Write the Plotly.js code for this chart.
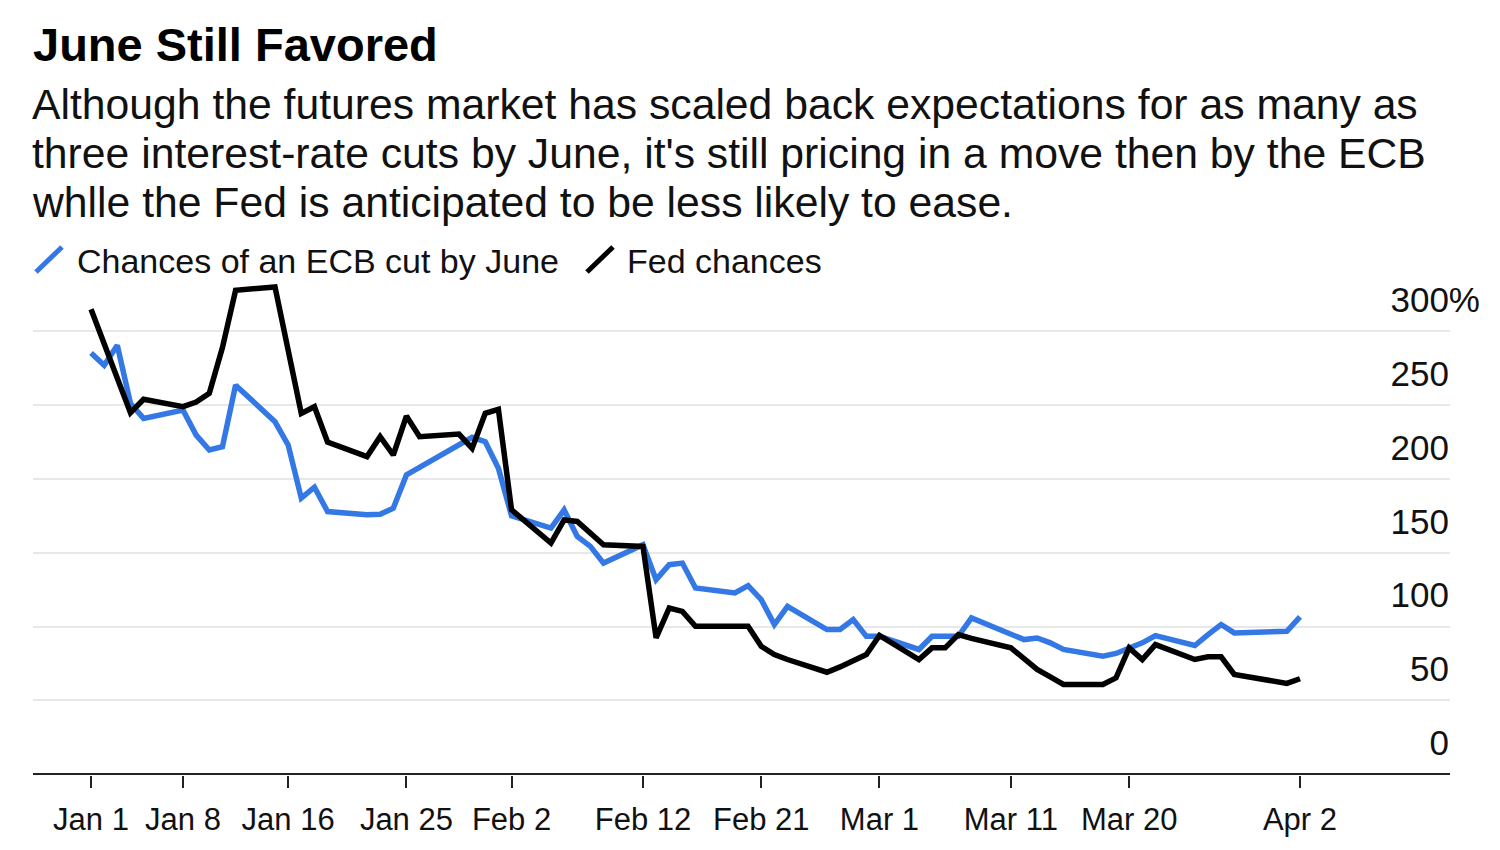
<!DOCTYPE html>
<html>
<head>
<meta charset="utf-8">
<script src="https://cdn.plot.ly/plotly-3.0.1.min.js"></script>
<style>html,body{margin:0;padding:0;background:#fff}#chart{width:1500px;height:850px}</style>
</head>
<body>
<div id="chart"></div>
<script>
// ---- data ----
const dates = [
  "2024-01-01","2024-01-02","2024-01-03","2024-01-04","2024-01-05",
  "2024-01-08","2024-01-09","2024-01-10","2024-01-11","2024-01-12",
  "2024-01-15","2024-01-16","2024-01-17","2024-01-18","2024-01-19",
  "2024-01-22","2024-01-23","2024-01-24","2024-01-25","2024-01-26",
  "2024-01-29","2024-01-30","2024-01-31","2024-02-01","2024-02-02",
  "2024-02-05","2024-02-06","2024-02-07","2024-02-08","2024-02-09",
  "2024-02-12","2024-02-13","2024-02-14","2024-02-15","2024-02-16",
  "2024-02-19","2024-02-20","2024-02-21","2024-02-22","2024-02-23",
  "2024-02-26","2024-02-27","2024-02-28","2024-02-29","2024-03-01",
  "2024-03-04","2024-03-05","2024-03-06","2024-03-07","2024-03-08",
  "2024-03-11","2024-03-12","2024-03-13","2024-03-14","2024-03-15",
  "2024-03-18","2024-03-19","2024-03-20","2024-03-21","2024-03-22",
  "2024-03-25","2024-03-26","2024-03-27","2024-03-28",
  "2024-04-01","2024-04-02"
];
const ecbChances = [
  285.3, 277, 290.5, 251.1, 241,
  246.6, 229.7, 219.6, 221.8, 263.5,
  238.7, 223, 187, 194.4, 177.9,
  175.7, 176.1, 180.2, 202.7, null,
  null, 228.2, 225.2, 207.2, 175,
  166.7, 179, 161, 154.3, 143,
  155.4, 131.8, 141.9, 143, 126.1,
  122.8, 127.7, 118.2, 101.4, 113.7,
  98, 98, 104.7, 93.4, 93.4,
  84.5, 93.4, 93.4, 93.4, 105.9,
  94.6, 91.2, 92.3, 89, 84.5,
  80, 81.8, 85, 89, 93.9,
  87.2, 94.6, 101.4, 95.7,
  96.8, 106.6
];
const fedChances = [
  314.9, null, null, 244.8, 253.9,
  248.9, 252, 258, 289, 327.7,
  330, null, 244.4, 248.9, 225,
  215.1, 228.6, 216.2, 242.6, 228.6,
  230.4, 220.7, 244.4, 247.1, 179.1,
  156.6, 172.3, 171.2, 163.3, 155.4,
  154.3, 92.4, 112.6, 110.3, 100.2,
  null, 100.2, 86.7, 81.1, 77.7,
  69.1, 72.7, 76.6, 81.1, 94,
  77.7, 85.6, 85.6, 94.6, 92,
  85.6, 78.8, 71, 66, 60.8,
  60.8, 65.3, 85.6, 77.7, 87.8,
  77.7, 79.5, 79.5, 67.6,
  61.5, 64.7
];
const xTickVals = ["2024-01-01","2024-01-08","2024-01-16","2024-01-25","2024-02-02","2024-02-12","2024-02-21","2024-03-01","2024-03-11","2024-03-20","2024-04-02"];
const xTickText = ["Jan 1","Jan 8","Jan 16","Jan 25","Feb 2","Feb 12","Feb 21","Mar 1","Mar 11","Mar 20","Apr 2"];
const yTickVals = [0, 50, 100, 150, 200, 250, 300];
const yTickText = ["0","50","100","150","200","250","300%"];
const seriesNames = ["Chances of an ECB cut by June", "Fed chances"];
const titleText = "June Still Favored";
const subtitleLines = [
  "Although the futures market has scaled back expectations for as many as",
  "three interest-rate cuts by June, it's still pricing in a move then by the ECB",
  "whlle the Fed is anticipated to be less likely to ease."
];

// ---- styling ----
const BLUE = "#3478e6";
const BLACK = "#000000";
const FONT = "Liberation Sans, Arial, Helvetica, sans-serif";
const W = 1500, H = 850;
const M = {l: 33, r: 17, t: 262, b: 75};
const paperW = W - M.l - M.r;
const plotRight = 1450;
const plotH = H - M.t - M.b;
const pxPerUnit = 1.4767;
const yTop = plotH / pxPerUnit;
const py = Y => (H - M.b - Y) / plotH;
const px = X => (X - M.l) / paperW;

const hidePct = '<span style="fill-opacity:0">%</span>';
const yTickTextShown = yTickText.map(t => t.endsWith('%') ? t : t + hidePct);

const traces = [
  {x: dates, y: ecbChances, type: "scatter", mode: "lines", connectgaps: true,
   line: {color: BLUE, width: 5.5}, showlegend: false, hoverinfo: "skip"},
  {x: dates, y: fedChances, type: "scatter", mode: "lines", connectgaps: true,
   line: {color: BLACK, width: 5.5}, showlegend: false, hoverinfo: "skip"},
  {x: [null], y: [null], type: "scatter", mode: "markers", name: seriesNames[0],
   marker: {symbol: "line-ne", size: 1, color: "rgba(0,0,0,0)", line: {color: "rgba(0,0,0,0)", width: 0}}},
  {x: [null], y: [null], type: "scatter", mode: "markers", name: seriesNames[1],
   marker: {symbol: "line-ne", size: 1, color: "rgba(0,0,0,0)", line: {color: "rgba(0,0,0,0)", width: 0}}}
];

const annotations = subtitleLines.map((t, i) => ({
  text: t, xref: "paper", yref: "paper", x: 0, xshift: -3, y: py(104.5 + i * 48.5),
  xanchor: "left", yanchor: "middle", showarrow: false,
  font: {family: FONT, size: 42.7, color: "#111"}
}));

// legend key strokes (slanted like the original)
const legendStroke = (x0, color) => ({
  type: "line", xref: "paper", yref: "paper",
  x0: px(x0), y0: py(272), x1: px(x0 + 26), y1: py(247),
  line: {color: color, width: 5}
});

const layout = {
  width: W, height: H,
  margin: M,
  paper_bgcolor: "#ffffff", plot_bgcolor: "#ffffff",
  font: {family: FONT, color: "#111"},
  title: {
    text: "<b>" + titleText + "</b>",
    xref: "container", yref: "container", x: 33/W, xanchor: "left",
    y: 1 - 28/H, yanchor: "top",
    font: {family: FONT, size: 47, color: "#000"}
  },
  showlegend: true,
  legend: {
    orientation: "h", x: px(37), xanchor: "left", y: py(260), yanchor: "middle",
    font: {family: FONT, size: 34, color: "#111"},
    entrywidth: 505, entrywidthmode: "pixels",
    itemsizing: "constant", bgcolor: "rgba(0,0,0,0)"
  },
  xaxis: {
    type: "date",
    domain: [0, px(plotRight)],
    range: ["2023-12-27 14:00", "2024-04-13 10:00"],
    tickmode: "array", tickvals: xTickVals, ticktext: xTickText,
    showgrid: false, zeroline: false,
    showline: false,
    ticks: "outside", ticklen: 12, tickwidth: 2, tickcolor: "#222",
    ticklabelstandoff: 5,
    tickfont: {family: FONT, size: 31, color: "#111"},
    fixedrange: true
  },
  yaxis: {
    range: [-0.5, yTop - 0.5],
    side: "right", anchor: "free", position: 1,
    tickmode: "array", tickvals: yTickVals, ticktext: yTickTextShown,
    ticklabelposition: "inside top",
    ticklabelshift: -7,
    ticks: "", showline: false,
    zeroline: true, zerolinecolor: "#222", zerolinewidth: 2,
    showgrid: true, gridcolor: "#e8e8e8", gridwidth: 2,
    tickfont: {family: FONT, size: 35, color: "#111"},
    fixedrange: true
  },
  shapes: [legendStroke(36, BLUE), legendStroke(587, BLACK)],
  annotations: annotations
};

Plotly.newPlot("chart", traces, layout, {displayModeBar: false, staticPlot: true});
</script>
</body>
</html>
